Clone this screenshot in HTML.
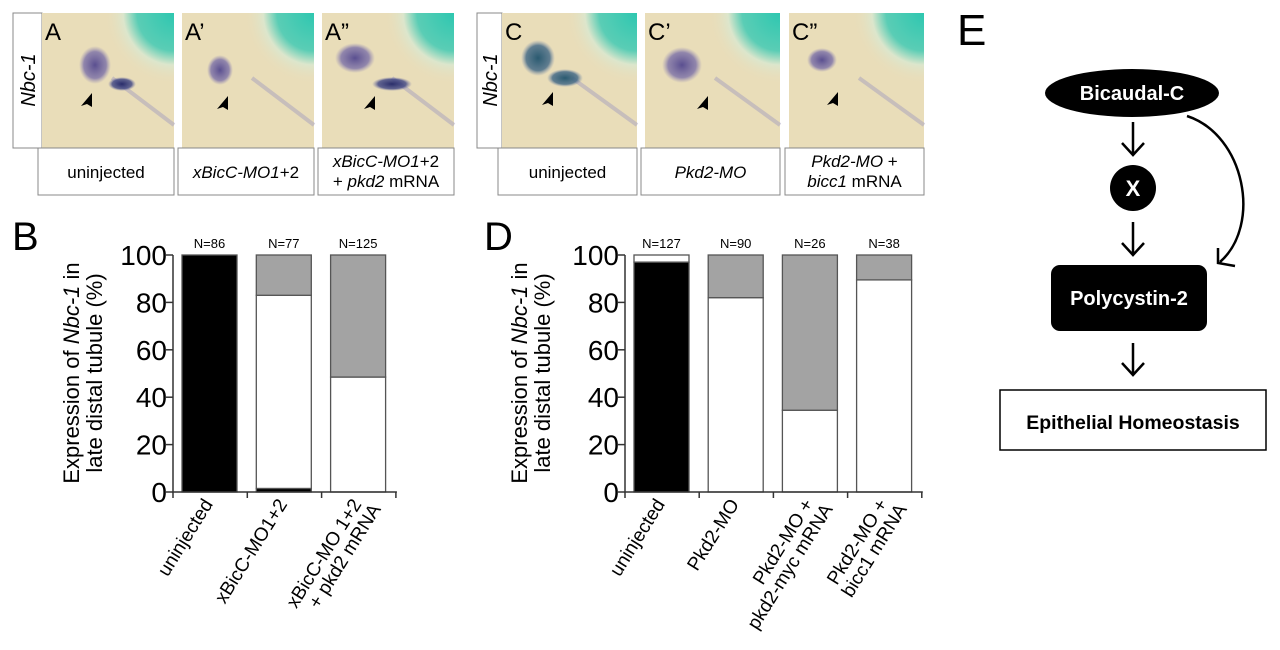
<!DOCTYPE html>
<html><head><meta charset="utf-8"><style>
html,body{margin:0;padding:0;background:#fff;width:1280px;height:650px;overflow:hidden}
svg{display:block;font-family:"Liberation Sans",Arial,sans-serif}
</style></head><body>
<svg id="fig" width="1280" height="650" viewBox="0 0 1280 650" xmlns="http://www.w3.org/2000/svg">
<defs>
<radialGradient id="teal" cx="1" cy="0" r="0.7">
<stop offset="0" stop-color="#2ec7b0"/><stop offset="0.4" stop-color="#5acdb5"/><stop offset="0.55" stop-color="#dce6cc"/><stop offset="0.75" stop-color="#e8ddbb" stop-opacity="0"/>
</radialGradient>
<radialGradient id="blob"><stop offset="0" stop-color="#5a4f90"/><stop offset="0.7" stop-color="#7b70a8" stop-opacity="0.8"/><stop offset="1" stop-color="#9a90b8" stop-opacity="0"/></radialGradient>
<radialGradient id="blobDark"><stop offset="0" stop-color="#2a2d6a"/><stop offset="0.7" stop-color="#3e4585" stop-opacity="0.8"/><stop offset="1" stop-color="#8080b0" stop-opacity="0"/></radialGradient>
<radialGradient id="blobTeal"><stop offset="0" stop-color="#2a5a70"/><stop offset="0.7" stop-color="#3d6585" stop-opacity="0.8"/><stop offset="1" stop-color="#8090b0" stop-opacity="0"/></radialGradient>
</defs>
<g id="photos"></g>
<g id="chartB"></g>
<g id="chartD"></g>
<g id="diagram">
<text x="957" y="45" font-size="44">E</text>
<ellipse cx="1132" cy="93" rx="87" ry="24" fill="#000"/>
<text x="1132" y="100" font-size="20" font-weight="bold" fill="#fff" text-anchor="middle">Bicaudal-C</text>
<g stroke="#000" stroke-width="2.5" fill="none">
<path d="M1133 122 V155 M1122 143 L1133 155 L1144 143"/>
<path d="M1133 222 V255 M1122 243 L1133 255 L1144 243"/>
<path d="M1133 343 V375 M1122 363 L1133 375 L1144 363"/>
<path d="M1187 116 C1245 135 1262 225 1220 262 M1218 248 L1218 263 L1235 266"/>
</g>
<circle cx="1133" cy="188" r="23" fill="#000"/>
<text x="1133" y="196" font-size="22" font-weight="bold" fill="#fff" text-anchor="middle">X</text>
<rect x="1051" y="265" width="156" height="66" rx="9" fill="#000"/>
<text x="1129" y="305" font-size="20" font-weight="bold" fill="#fff" text-anchor="middle">Polycystin-2</text>
<rect x="1000" y="390" width="266" height="60" fill="#fff" stroke="#000" stroke-width="1.5"/>
<text x="1133" y="429" font-size="19.5" font-weight="bold" text-anchor="middle">Epithelial Homeostasis</text>
</g>
</svg>
<script>
var NS="http://www.w3.org/2000/svg";
function mk(parent,tag,attrs,txt){var e=document.createElementNS(NS,tag);for(var k in attrs)e.setAttribute(k,attrs[k]);if(txt!==undefined)e.textContent=txt;parent.appendChild(e);return e;}

// ---- Chart B data ----
var bCategories=["uninjected","xBicC-MO1+2","xBicC-MO 1+2|+ pkd2 mRNA"];
var bCounts=["N=86","N=77","N=125"];
var bBlack=[100,1.5,0];
var bWhite=[0,81.5,48.5];
var bGray=[0,17,51.5];
// ---- Chart D data ----
var dCategories=["uninjected","Pkd2-MO","Pkd2-MO +|pkd2-myc mRNA","Pkd2-MO +|bicc1 mRNA"];
var dCounts=["N=127","N=90","N=26","N=38"];
var dBlack=[97,0,0,0];
var dWhite=[3,82,34.5,89.5];
var dGray=[0,18,65.5,10.5];
var yTicks=[0,20,40,60,80,100];

function drawChart(gid,cfg){
  var g=document.getElementById(gid);
  var x0=cfg.x0,y0=492,y100=255,step=cfg.step,bw=55;
  function Y(v){return y0-(v/100)*(y0-y100);}
  var n=cfg.cats.length;
  var lab=mk(g,"text",{x:cfg.lx,y:250,"font-size":40});
  lab.textContent=cfg.letter;
  
  
  var t=mk(g,"text",{transform:"translate("+(cfg.tx)+",373) rotate(-90)","font-size":22,"text-anchor":"middle"});
  
  
  var s1=mk(t,"tspan",{x:0,y:0});s1.appendChild(document.createTextNode("Expression of "));
  mk(s1,"tspan",{"font-style":"italic"},"Nbc-1");s1.appendChild(document.createTextNode(" in"));
  mk(t,"tspan",{x:0,y:23},"late distal tubule (%)");
  for(var i=0;i<n;i++){
    var bx=x0+9+i*step, base=0;
    var segs=[[cfg.black[i],"#000"],[cfg.white[i],"#fff"],[cfg.gray[i],"#a3a3a3"]];
    for(var j=0;j<3;j++){
      var v=segs[j][0]; if(v<=0)continue;
      var r=mk(g,"rect",{x:bx,y:Y(base+v),width:bw,height:Y(base)-Y(base+v),fill:segs[j][1],stroke:"#555","stroke-width":1.3});
      
      
      base+=v;
    }
    var nt=mk(g,"text",{x:bx+bw/2,y:248,"font-size":13,"text-anchor":"middle"},cfg.counts[i]);
    
    
    var parts=cfg.cats[i].split("|");
    var cx=bx+bw/2+4, cy=504;
    var ct=mk(g,"text",{transform:"translate("+cx+","+cy+") rotate(-58)","font-size":19,"text-anchor":"end"});
    
    
    for(var p=0;p<parts.length;p++){
      mk(ct,"tspan",{x:(p?6:0),y:p*19},parts[p]);
    }
  }
  var xEnd=x0+n*step+1;
  var ax=mk(g,"path",{d:"M"+x0+" "+y100+" V"+y0+" H"+xEnd,stroke:"#333","stroke-width":1.5,fill:"none"});
  
  
  for(var k=0;k<yTicks.length;k++){
    var yy=Y(yTicks[k]);
    var tk=mk(g,"line",{x1:x0-7,x2:x0,y1:yy,y2:yy,stroke:"#333","stroke-width":1.5});
    
    
    var tl=mk(g,"text",{x:x0-6,y:yy+10,"font-size":28,"text-anchor":"end"},yTicks[k]);
    
    
  }
  for(var m=0;m<=n;m++){
    var xx=x0+m*step;
    var xt=mk(g,"line",{x1:xx,x2:xx,y1:y0,y2:y0+6,stroke:"#333","stroke-width":1.5});
    
    
  }
}
drawChart("chartB",{x0:173,step:74.3,cats:bCategories,counts:bCounts,black:bBlack,white:bWhite,gray:bGray,letter:"B",lx:12,tx:79});
drawChart("chartD",{x0:625,step:74.2,cats:dCategories,counts:dCounts,black:dBlack,white:dWhite,gray:dGray,letter:"D",lx:484,tx:527});

var photos=[
 {x:42,letter:"A",cap:["uninjected"],blobs:[[95,65,16,19,"blob"],[122,84,14,7,"blobDark"]],arrow:[92,93]},
 {x:182,letter:"A\u2019",cap:["<i>xBicC-MO1</i>+2"],blobs:[[220,70,13,15,"blob"]],arrow:[228,96]},
 {x:322,letter:"A\u201D",cap:["<i>xBicC-MO1</i>+2","+ <i>pkd2</i> mRNA"],blobs:[[355,58,20,15,"blob"],[392,84,20,7,"blobDark"]],arrow:[375,96]},
 {x:502,letter:"C",cap:["uninjected"],blobs:[[538,58,17,18,"blobTeal"],[565,78,18,9,"blobTeal"]],arrow:[553,92]},
 {x:645,letter:"C\u2019",cap:["<i>Pkd2-MO</i>"],blobs:[[682,65,20,18,"blob"]],arrow:[708,96]},
 {x:789,letter:"C\u201D",cap:["<i>Pkd2-MO</i> +","<i>bicc1</i> mRNA"],blobs:[[822,60,15,12,"blob"]],arrow:[838,92]}
];
var pg=document.getElementById("photos");
[13,477].forEach(function(bx,i){
  var r=mk(pg,"rect",{x:bx,y:13,width:(i?25:29),height:135,fill:"#fff",stroke:"#888","stroke-width":1});
  
  
  var t=mk(pg,"text",{transform:"translate("+(bx+(i?20:22))+",80) rotate(-90)","font-size":20,"font-style":"italic","text-anchor":"middle"},"Nbc-1");
  
  
});
photos.forEach(function(p,i){
  var w=(i<3?132:135);
  var g=mk(pg,"g",{});
  
  
  mk(g,"rect",{x:p.x,y:13,width:w,height:135,fill:"#e9ddb9"});
  mk(g,"rect",{x:p.x,y:13,width:w,height:135,fill:"url(#teal)"});
  mk(g,"path",{d:"M"+(p.x+70)+" 78 L"+(p.x+w)+" 125",stroke:"#a59fbd","stroke-width":4,"stroke-opacity":0.5});
  p.blobs.forEach(function(b){mk(g,"ellipse",{cx:b[0],cy:b[1],rx:b[2],ry:b[3],fill:"url(#"+b[4]+")"});});
  mk(g,"path",{d:"M"+p.arrow[0]+" "+p.arrow[1]+" l-11 13 l6 -2 l5 3 z",fill:"#000"});
  var lt=mk(g,"text",{x:p.x+3,y:40,"font-size":24},p.letter);
  
  
  var cb=mk(pg,"rect",{x:p.x-4,y:148,width:w+4,height:47,fill:"#fff",stroke:"#888","stroke-width":1});
  
  
  var ct=mk(pg,"text",{x:p.x-2+w/2,y:(p.cap.length>1?167:178),"font-size":17,"text-anchor":"middle"});
  
  
  p.cap.forEach(function(line,k){
    var ts=mk(ct,"tspan",{x:p.x-2+w/2,dy:(k?20:0)});
    line.split(/(<i>.*?<\/i>)/).forEach(function(seg){
      if(!seg)return;
      if(seg.indexOf("<i>")===0)mk(ts,"tspan",{"font-style":"italic"},seg.replace(/<\/?i>/g,""));
      else ts.appendChild(document.createTextNode(seg));
    });
  });
});
</script>
</body></html>
